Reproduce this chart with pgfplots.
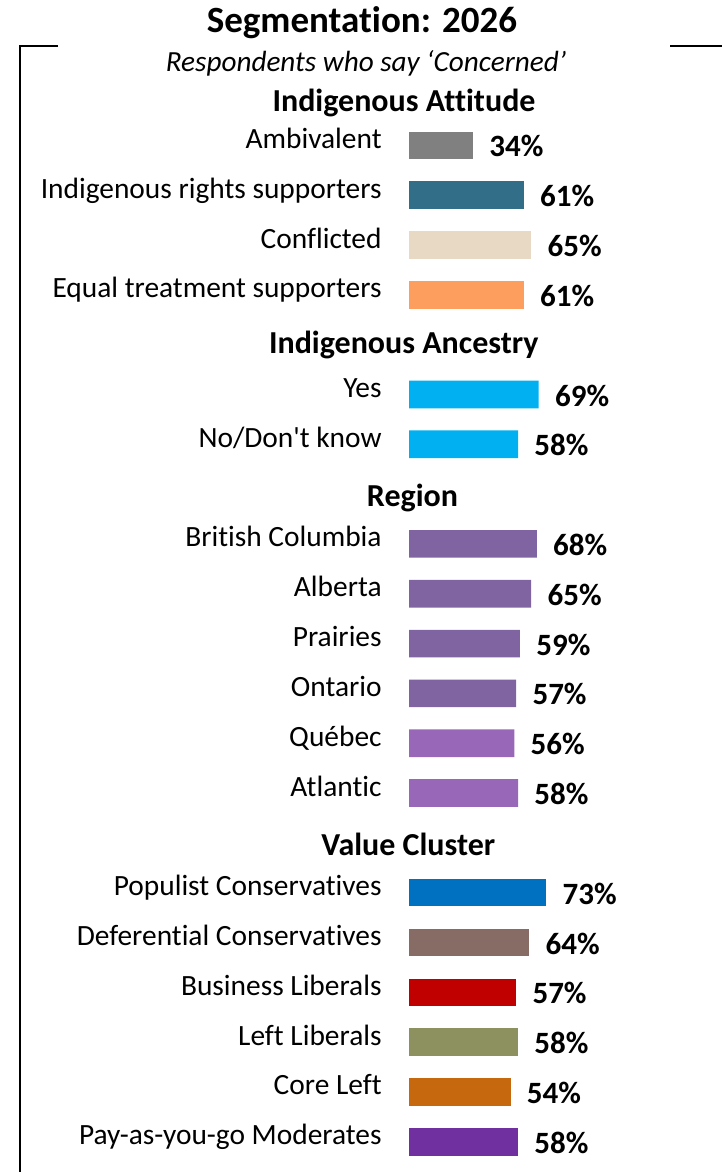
\documentclass[border=0pt]{standalone}
\usepackage{fontspec}
\setmainfont{Carlito}[Ligatures={NoCommon}]
\usepackage{pgfplots}
\pgfplotsset{compat=1.18}

\definecolor{cAmb}{RGB}{128,128,128}
\definecolor{cIRS}{RGB}{50,110,136}
\definecolor{cCon}{RGB}{232,217,196}
\definecolor{cEqu}{RGB}{253,157,94}
\definecolor{cAnc}{RGB}{0,176,240}
\definecolor{cReg}{RGB}{128,100,162}
\definecolor{cRegL}{RGB}{153,103,183}
\definecolor{cPop}{RGB}{0,112,192}
\definecolor{cDef}{RGB}{134,108,100}
\definecolor{cBus}{RGB}{192,0,0}
\definecolor{cLef}{RGB}{141,145,95}
\definecolor{cCor}{RGB}{197,104,14}
\definecolor{cPay}{RGB}{112,48,160}

\begin{document}
\begin{tikzpicture}[x=0.5pt,y=-0.5pt]
\useasboundingbox (0,0) rectangle (722,1172);
% frame and titles
\draw[line width=1pt] (58,46) -- (20,46) -- (20,1172);
\draw[line width=1pt] (670,46) -- (722,46);
\node[anchor=base, inner sep=0pt, font=\bfseries\fontsize{18.5}{21}\selectfont] at (362,32.3) {Segmentation: 2026};
\node[anchor=base, inner sep=0pt, font=\itshape\fontsize{14.6}{17}\selectfont] at (366,71.7) {Respondents who say ‘Concerned’};

\begin{axis}[
    at={(204.5pt,0pt)}, anchor=north west,
    scale only axis, width=94pt, height=586pt,
    xmin=0, xmax=100,
    ymin=-1.9177, ymax=21.6165, y dir=reverse,
    xbar, bar width=13.8pt, bar shift=0pt,
    axis line style={draw=none}, major tick length=0pt,
    xtick=\empty,
    ytick={1,2,3,4,6,7,9,10,11,12,13,14,16,17,18,19,20,21},
    yticklabels={Ambivalent, Indigenous rights supporters, Conflicted, Equal treatment supporters,
        Yes, No/Don\textquotesingle t know,
        British Columbia, Alberta, Prairies, Ontario, Québec, Atlantic,
        Populist Conservatives, Deferential Conservatives, Business Liberals, Left Liberals, Core Left, Pay-as-you-go Moderates},
    yticklabel style={anchor=base east, inner sep=0pt, xshift=-13.5pt, yshift=-1.5pt, font=\fontsize{14.7}{17}\selectfont},
    /pgf/number format/assume math mode=true,
    nodes near coords={\pgfmathprintnumber{\pgfplotspointmeta}\%},
    every node near coord/.append style={anchor=west, inner sep=0pt, xshift=8pt, yshift=-0.5pt, font=\bfseries\fontsize{15.5}{18}\selectfont, text=black},
    clip=false,
]
% Indigenous Attitude
\addplot[draw=none, fill=cAmb] coordinates {(34,1)};
\addplot[draw=none, fill=cIRS] coordinates {(61,2)};
\addplot[draw=none, fill=cCon] coordinates {(65,3)};
\addplot[draw=none, fill=cEqu] coordinates {(61,4)};
% Indigenous Ancestry
\addplot[draw=none, fill=cAnc] coordinates {(69,6) (58,7)};
% Region
\addplot[draw=none, fill=cReg] coordinates {(68,9) (65,10) (59,11) (57,12)};
\addplot[draw=none, fill=cRegL] coordinates {(56,13) (58,14)};
% Value Cluster
\addplot[draw=none, fill=cPop] coordinates {(73,16)};
\addplot[draw=none, fill=cDef] coordinates {(64,17)};
\addplot[draw=none, fill=cBus] coordinates {(57,18)};
\addplot[draw=none, fill=cLef] coordinates {(58,19)};
\addplot[draw=none, fill=cCor] coordinates {(54,20)};
\addplot[draw=none, fill=cPay] coordinates {(58,21)};

\begin{scope}[every node/.style={anchor=base, inner sep=0pt, font=\bfseries\fontsize{16}{19}\selectfont}]
\node at (axis cs:-2.66,0.325) {Indigenous Attitude};
\node at (axis cs:-2.77,5.177) {Indigenous Ancestry};
\node at (axis cs:1.86,8.257) {Region};
\node at (axis cs:-0.37,15.251) {Value Cluster};
\end{scope}
\end{axis}
\end{tikzpicture}
\end{document}
